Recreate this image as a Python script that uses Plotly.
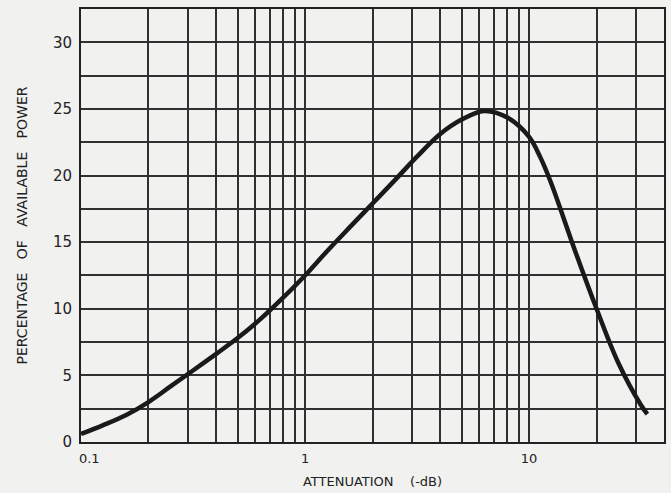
import plotly.graph_objects as go

# Curve values (attenuation in -dB, percentage of available power)
attenuation_db = [0.1, 0.125, 0.16, 0.2, 0.25, 0.315, 0.4, 0.5, 0.63, 0.8,
                  1.0, 1.25, 1.6, 2.0, 2.5, 3.15, 4.0, 5.0, 6.3, 8.0,
                  10.0, 11.2, 12.5, 16.0, 20.0, 25.0, 31.5, 33.7]
percent_power = [0.6, 1.25, 2.05, 3.0, 4.15, 5.35, 6.6, 7.8, 9.2, 10.85,
                 12.5, 14.3, 16.2, 17.9, 19.6, 21.4, 23.1, 24.2, 24.85, 24.35,
                 22.9, 21.4, 19.5, 14.4, 10.0, 5.95, 2.8, 2.1]

# Axis grid / tick labels
x_grid_vals = [0.1, 0.2, 0.3, 0.4, 0.5, 0.6, 0.7, 0.8, 0.9,
               1, 2, 3, 4, 5, 6, 7, 8, 9, 10, 20, 30, 40]
x_label_map = {0.1: "\u00a0\u00a0\u00a0\u00a00.1", 1: "1", 10: "10"}
y_grid_vals = [0, 2.5, 5, 7.5, 10, 12.5, 15, 17.5, 20, 22.5, 25, 27.5, 30, 32.5]
y_label_vals = [0, 5, 10, 15, 20, 25, 30]

x_text = [x_label_map.get(v, "") for v in x_grid_vals]
y_text = [str(int(v)) if v in y_label_vals else "" for v in y_grid_vals]

BG = "#f1f1f0"
GRID = "#303030"
FONT = "DejaVu Sans"

fig = go.Figure()
fig.add_trace(go.Scatter(
    x=attenuation_db, y=percent_power, mode="lines",
    line=dict(color="#1a1a1a", width=4.5, shape="spline", smoothing=1.0),
    showlegend=False, hoverinfo="skip",
))

fig.update_layout(
    width=671, height=493,
    margin=dict(l=81, r=7, t=9, b=51, autoexpand=False),
    paper_bgcolor=BG, plot_bgcolor=BG,
    font=dict(family=FONT, color="#222222", size=14),
    xaxis=dict(
        type="log", range=[-1, 1.60206],
        tickvals=x_grid_vals, ticktext=x_text,
        showgrid=True, gridcolor=GRID, gridwidth=1.7,
        showline=True, linecolor="#222222", linewidth=2, mirror=True,
        ticks="", zeroline=False, ticklabelstandoff=3,
        tickfont=dict(family=FONT, size=13),
        title=dict(text="ATTENUATION\u00a0\u00a0\u00a0\u00a0(-dB)",
                   font=dict(family=FONT, size=13), standoff=12),
    ),
    yaxis=dict(
        range=[0, 32.5],
        tickvals=y_grid_vals, ticktext=y_text,
        showgrid=True, gridcolor=GRID, gridwidth=1.7,
        showline=True, linecolor="#222222", linewidth=2, mirror=True,
        ticks="", zeroline=False, ticklabelstandoff=4,
        tickfont=dict(family=FONT, size=15),
        title=dict(text="PERCENTAGE\u00a0\u00a0\u00a0OF\u00a0\u00a0\u00a0AVAILABLE\u00a0\u00a0\u00a0POWER",
                   font=dict(family=FONT, size=14), standoff=22),
    ),
)

fig.write_html("out.html",
               config={"displayModeBar": False},
               post_script="document.body.style.margin='0';document.body.style.overflow='hidden';")
